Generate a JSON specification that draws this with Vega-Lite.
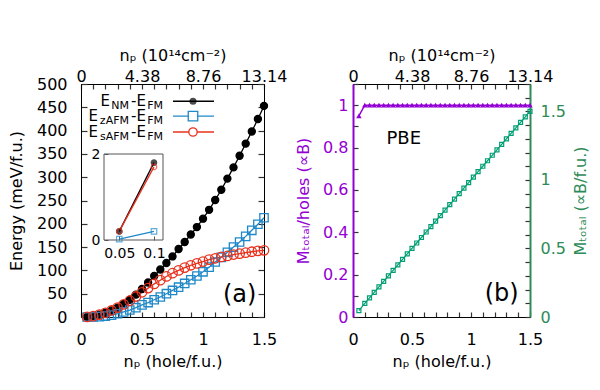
{
  "$schema": "https://vega.github.io/schema/vega-lite/v6.json",
  "padding": {"left": 7, "top": 46, "right": 0, "bottom": 0},
  "spacing": 7,
  "datasets": {
    "energy": [
      {"n":0.05,"s":"NM","E":0.2},{"n":0.1,"s":"NM","E":1.8},{"n":0.15,"s":"NM","E":5},{"n":0.2,"s":"NM","E":9},{"n":0.25,"s":"NM","E":14},{"n":0.3,"s":"NM","E":20},{"n":0.35,"s":"NM","E":28},{"n":0.4,"s":"NM","E":37},{"n":0.45,"s":"NM","E":48},{"n":0.5,"s":"NM","E":60},{"n":0.55,"s":"NM","E":74},{"n":0.6,"s":"NM","E":88},{"n":0.65,"s":"NM","E":102},{"n":0.7,"s":"NM","E":116},{"n":0.75,"s":"NM","E":130},{"n":0.8,"s":"NM","E":146},{"n":0.85,"s":"NM","E":161},{"n":0.9,"s":"NM","E":177},{"n":0.95,"s":"NM","E":193},{"n":1.0,"s":"NM","E":211},{"n":1.05,"s":"NM","E":230},{"n":1.1,"s":"NM","E":251},{"n":1.15,"s":"NM","E":273},{"n":1.2,"s":"NM","E":297},{"n":1.25,"s":"NM","E":321},{"n":1.3,"s":"NM","E":346},{"n":1.35,"s":"NM","E":372},{"n":1.4,"s":"NM","E":398},{"n":1.45,"s":"NM","E":425},{"n":1.5,"s":"NM","E":453},
      {"n":0.05,"s":"zAFM","E":0.02},{"n":0.1,"s":"zAFM","E":0.2},{"n":0.15,"s":"zAFM","E":0.8},{"n":0.2,"s":"zAFM","E":2},{"n":0.25,"s":"zAFM","E":4},{"n":0.3,"s":"zAFM","E":7},{"n":0.35,"s":"zAFM","E":11},{"n":0.4,"s":"zAFM","E":15},{"n":0.45,"s":"zAFM","E":20},{"n":0.5,"s":"zAFM","E":26},{"n":0.55,"s":"zAFM","E":31},{"n":0.6,"s":"zAFM","E":37},{"n":0.65,"s":"zAFM","E":43},{"n":0.7,"s":"zAFM","E":50},{"n":0.75,"s":"zAFM","E":57},{"n":0.8,"s":"zAFM","E":64},{"n":0.85,"s":"zAFM","E":72},{"n":0.9,"s":"zAFM","E":80},{"n":0.95,"s":"zAFM","E":88},{"n":1.0,"s":"zAFM","E":97},{"n":1.05,"s":"zAFM","E":107},{"n":1.1,"s":"zAFM","E":118},{"n":1.15,"s":"zAFM","E":128},{"n":1.2,"s":"zAFM","E":139},{"n":1.25,"s":"zAFM","E":150},{"n":1.3,"s":"zAFM","E":161},{"n":1.35,"s":"zAFM","E":173},{"n":1.4,"s":"zAFM","E":186},{"n":1.45,"s":"zAFM","E":199},{"n":1.5,"s":"zAFM","E":213},
      {"n":0.05,"s":"sAFM","E":0.2},{"n":0.1,"s":"sAFM","E":1.7},{"n":0.15,"s":"sAFM","E":5},{"n":0.2,"s":"sAFM","E":9},{"n":0.25,"s":"sAFM","E":14},{"n":0.3,"s":"sAFM","E":20},{"n":0.35,"s":"sAFM","E":27},{"n":0.4,"s":"sAFM","E":35},{"n":0.45,"s":"sAFM","E":44},{"n":0.5,"s":"sAFM","E":53},{"n":0.55,"s":"sAFM","E":62},{"n":0.6,"s":"sAFM","E":71},{"n":0.65,"s":"sAFM","E":79},{"n":0.7,"s":"sAFM","E":87},{"n":0.75,"s":"sAFM","E":94},{"n":0.8,"s":"sAFM","E":100},{"n":0.85,"s":"sAFM","E":106},{"n":0.9,"s":"sAFM","E":111},{"n":0.95,"s":"sAFM","E":115},{"n":1.0,"s":"sAFM","E":119},{"n":1.05,"s":"sAFM","E":123},{"n":1.1,"s":"sAFM","E":126},{"n":1.15,"s":"sAFM","E":129},{"n":1.2,"s":"sAFM","E":131},{"n":1.25,"s":"sAFM","E":134},{"n":1.3,"s":"sAFM","E":136},{"n":1.35,"s":"sAFM","E":138},{"n":1.4,"s":"sAFM","E":140},{"n":1.45,"s":"sAFM","E":142},{"n":1.5,"s":"sAFM","E":143}
    ],
    "mag": [
      {"n":0.05,"r":0.95,"m":0.047},{"n":0.1,"r":1,"m":0.1},{"n":0.14,"r":1,"m":0.14},{"n":0.18,"r":1,"m":0.18},{"n":0.22,"r":1,"m":0.22},{"n":0.26,"r":1,"m":0.26},{"n":0.3,"r":1,"m":0.3},{"n":0.34,"r":1,"m":0.34},{"n":0.38,"r":1,"m":0.38},{"n":0.42,"r":1,"m":0.42},{"n":0.46,"r":1,"m":0.46},{"n":0.5,"r":1,"m":0.5},{"n":0.54,"r":1,"m":0.54},{"n":0.58,"r":1,"m":0.58},{"n":0.62,"r":1,"m":0.62},{"n":0.66,"r":1,"m":0.66},{"n":0.7,"r":1,"m":0.7},{"n":0.74,"r":1,"m":0.74},{"n":0.78,"r":1,"m":0.78},{"n":0.82,"r":1,"m":0.82},{"n":0.86,"r":1,"m":0.86},{"n":0.9,"r":1,"m":0.9},{"n":0.94,"r":1,"m":0.94},{"n":0.98,"r":1,"m":0.98},{"n":1.02,"r":1,"m":1.02},{"n":1.06,"r":1,"m":1.06},{"n":1.1,"r":1,"m":1.1},{"n":1.14,"r":1,"m":1.14},{"n":1.18,"r":1,"m":1.18},{"n":1.22,"r":1,"m":1.22},{"n":1.26,"r":1,"m":1.26},{"n":1.3,"r":1,"m":1.3},{"n":1.34,"r":1,"m":1.34},{"n":1.38,"r":1,"m":1.38},{"n":1.42,"r":1,"m":1.42},{"n":1.46,"r":1,"m":1.46},{"n":1.5,"r":1,"m":1.5}
    ]
  },
  "hconcat": [
    {
      "width": 183,
      "height": 233,
      "layer": [
        {
          "layer": [
            {
              "data": {"name": "energy"},
              "mark": {"type": "line", "strokeWidth": 1.3},
              "encoding": {
                "x": {"field": "n", "type": "quantitative", "scale": {"domain": [0, 1.5], "nice": false, "zero": false},
                  "axis": {"orient": "bottom", "values": [0,0.1,0.2,0.3,0.4,0.5,0.6,0.7,0.8,0.9,1,1.1,1.2,1.3,1.4,1.5],
                    "labelExpr": "abs(datum.value*2-round(datum.value*2))<1e-6 ? format(datum.value,'~g') : ''",
                    "tickSize": -5, "tickColor": "#333333", "tickWidth": 1.2,
                    "labelPadding": 19, "title": "nₚ (hole/f.u.)", "titlePadding": 6}},
                "y": {"field": "E", "type": "quantitative", "scale": {"domain": [0, 500], "nice": false},
                  "axis": {"orient": "left", "values": [0,50,100,150,200,250,300,350,400,450,500], "tickSize": -6, "tickColor": "#333333", "tickWidth": 1.2, "labelPadding": 20, "title": "Energy (meV/f.u.)", "titlePadding": 12}},
                "color": {"field": "s", "type": "nominal", "scale": {"domain": ["NM","zAFM","sAFM"], "range": ["#000000","#1f88c8","#e8301c"]}, "legend": null}
              }
            },
            {
              "data": {"name": "energy"},
              "mark": {"type": "point", "filled": false, "strokeWidth": 1.3, "opacity": 1},
              "encoding": {
                "x": {"field": "n", "type": "quantitative",
                  "axis": {"orient": "top", "values": [0,0.1,0.2,0.3,0.4,0.5,0.6,0.7,0.8,0.9,1,1.1,1.2,1.3,1.4,1.5],
                    "labelExpr": "datum.value==0 ? '0' : (abs(datum.value*2-round(datum.value*2))<1e-6 ? format(datum.value*8.76,'.2f') : '')",
                    "tickSize": -5, "tickColor": "#333333", "tickWidth": 1.2,
                    "labelPadding": 5, "title": "nₚ (10¹⁴cm⁻²)", "titlePadding": 5}},
                "y": {"field": "E", "type": "quantitative",
                  "axis": {"orient": "right", "values": [0,50,100,150,200,250,300,350,400,450,500], "tickSize": -6, "tickColor": "#333333", "tickWidth": 1.2, "labels": false, "title": null}},
                "color": {"field": "s", "type": "nominal", "legend": null},
                "fill": {"field": "s", "type": "nominal", "scale": {"domain": ["NM","zAFM","sAFM"], "range": ["#000000","transparent","transparent"]}, "legend": null},
                "shape": {"field": "s", "type": "nominal", "scale": {"domain": ["NM","zAFM","sAFM"], "range": ["circle","square","circle"]}, "legend": null},
                "size": {"field": "s", "type": "nominal", "scale": {"domain": ["NM","zAFM","sAFM"], "range": [50,90,70]}, "legend": null}
              }
            },
            {"data": {"values": [{}]}, "mark": {"type": "rule", "color": "#000000", "strokeWidth": 1.3},
              "encoding": {"x": {"datum": 0.754, "axis": null}, "x2": {"datum": 1.09}, "y": {"datum": 463, "axis": null}}},
            {"data": {"values": [{}]}, "mark": {"type": "point", "filled": true, "color": "#000000", "size": 50},
              "encoding": {"x": {"datum": 0.918, "axis": null}, "y": {"datum": 463, "axis": null}}},
            {"data": {"values": [{}]}, "mark": {"type": "rule", "color": "#1f88c8", "strokeWidth": 1.3},
              "encoding": {"x": {"datum": 0.754, "axis": null}, "x2": {"datum": 1.09}, "y": {"datum": 431, "axis": null}}},
            {"data": {"values": [{}]}, "mark": {"type": "point", "shape": "square", "filled": false, "fill": "#ffffff", "fillOpacity": 1, "color": "#1f88c8", "strokeWidth": 1.3, "size": 90},
              "encoding": {"x": {"datum": 0.918, "axis": null}, "y": {"datum": 431, "axis": null}}},
            {"data": {"values": [{}]}, "mark": {"type": "rule", "color": "#e8301c", "strokeWidth": 1.3},
              "encoding": {"x": {"datum": 0.754, "axis": null}, "x2": {"datum": 1.09}, "y": {"datum": 397, "axis": null}}},
            {"data": {"values": [{}]}, "mark": {"type": "point", "shape": "circle", "filled": false, "fill": "#ffffff", "fillOpacity": 1, "color": "#e8301c", "strokeWidth": 1.3, "size": 70},
              "encoding": {"x": {"datum": 0.918, "axis": null}, "y": {"datum": 397, "axis": null}}},
            {"data": {"values": [{}]}, "mark": {"type": "text", "text": "FM", "fontSize": 11, "align": "right", "baseline": "middle", "dy": 5},
              "encoding": {"x": {"datum": 0.672, "axis": null}, "y": {"datum": 463, "axis": null}}},
            {"data": {"values": [{}]}, "mark": {"type": "text", "text": "-E", "fontSize": 15, "align": "right", "baseline": "middle", "dx": -17},
              "encoding": {"x": {"datum": 0.672, "axis": null}, "y": {"datum": 463, "axis": null}}},
            {"data": {"values": [{}]}, "mark": {"type": "text", "text": "NM", "fontSize": 11, "align": "right", "baseline": "middle", "dx": -34, "dy": 5},
              "encoding": {"x": {"datum": 0.672, "axis": null}, "y": {"datum": 463, "axis": null}}},
            {"data": {"values": [{}]}, "mark": {"type": "text", "text": "E", "fontSize": 15, "align": "right", "baseline": "middle", "dx": -53},
              "encoding": {"x": {"datum": 0.672, "axis": null}, "y": {"datum": 463, "axis": null}}},
            {"data": {"values": [{}]}, "mark": {"type": "text", "text": "FM", "fontSize": 11, "align": "right", "baseline": "middle", "dy": 5},
              "encoding": {"x": {"datum": 0.672, "axis": null}, "y": {"datum": 431, "axis": null}}},
            {"data": {"values": [{}]}, "mark": {"type": "text", "text": "-E", "fontSize": 15, "align": "right", "baseline": "middle", "dx": -17},
              "encoding": {"x": {"datum": 0.672, "axis": null}, "y": {"datum": 431, "axis": null}}},
            {"data": {"values": [{}]}, "mark": {"type": "text", "text": "zAFM", "fontSize": 11, "align": "right", "baseline": "middle", "dx": -34, "dy": 5},
              "encoding": {"x": {"datum": 0.672, "axis": null}, "y": {"datum": 431, "axis": null}}},
            {"data": {"values": [{}]}, "mark": {"type": "text", "text": "E", "fontSize": 15, "align": "right", "baseline": "middle", "dx": -65},
              "encoding": {"x": {"datum": 0.672, "axis": null}, "y": {"datum": 431, "axis": null}}},
            {"data": {"values": [{}]}, "mark": {"type": "text", "text": "FM", "fontSize": 11, "align": "right", "baseline": "middle", "dy": 5},
              "encoding": {"x": {"datum": 0.672, "axis": null}, "y": {"datum": 397, "axis": null}}},
            {"data": {"values": [{}]}, "mark": {"type": "text", "text": "-E", "fontSize": 15, "align": "right", "baseline": "middle", "dx": -17},
              "encoding": {"x": {"datum": 0.672, "axis": null}, "y": {"datum": 397, "axis": null}}},
            {"data": {"values": [{}]}, "mark": {"type": "text", "text": "sAFM", "fontSize": 11, "align": "right", "baseline": "middle", "dx": -34, "dy": 5},
              "encoding": {"x": {"datum": 0.672, "axis": null}, "y": {"datum": 397, "axis": null}}},
            {"data": {"values": [{}]}, "mark": {"type": "text", "text": "E", "fontSize": 15, "align": "right", "baseline": "middle", "dx": -65},
              "encoding": {"x": {"datum": 0.672, "axis": null}, "y": {"datum": 397, "axis": null}}},
            {"data": {"values": [{}]}, "mark": {"type": "text", "text": "(a)", "fontSize": 24, "align": "center", "baseline": "middle"},
              "encoding": {"x": {"datum": 1.3, "axis": null}, "y": {"datum": 47, "axis": null}}}
          ],
          "resolve": {"axis": {"x": "independent", "y": "independent"}}
        },
        {
          "layer": [
            {"data": {"values": [{}]}, "mark": {"type": "rect", "fill": "#ffffff", "fillOpacity": 0, "stroke": "#555555", "strokeWidth": 1},
              "encoding": {
                "x": {"datum": 0.028, "scale": {"domain": [0.028, 0.113], "range": [23, 82], "nice": false, "zero": false}, "axis": null},
                "x2": {"datum": 0.113},
                "y": {"datum": 0, "scale": {"domain": [0, 2], "range": [156, 70], "nice": false}, "axis": null},
                "y2": {"datum": 2}}},
            {"data": {"name": "energy"}, "transform": [{"filter": "datum.n <= 0.1"}],
              "mark": {"type": "line", "strokeWidth": 1.3},
              "encoding": {
                "x": {"field": "n", "type": "quantitative", "axis": {"orient": "bottom", "offset": -77, "values": [0.05, 0.1], "format": "~g", "tickSize": -4, "tickColor": "#555555", "labelPadding": 10, "labelFontSize": 14, "domain": false, "title": null}},
                "y": {"field": "E", "type": "quantitative", "axis": {"orient": "left", "offset": -23, "values": [0, 1, 2], "format": "d", "tickSize": -4, "tickColor": "#555555", "labelPadding": 8, "labelFontSize": 14, "domain": false, "title": null}},
                "color": {"field": "s", "type": "nominal", "legend": null}}},
            {"data": {"name": "energy"}, "transform": [{"filter": "datum.n <= 0.1"}],
              "mark": {"type": "point", "filled": false, "strokeWidth": 1.2, "size": 30},
              "encoding": {
                "x": {"field": "n", "type": "quantitative", "axis": null},
                "y": {"field": "E", "type": "quantitative", "axis": null},
                "color": {"field": "s", "type": "nominal", "legend": null},
                "fill": {"field": "s", "type": "nominal", "legend": null},
                "shape": {"field": "s", "type": "nominal", "legend": null}}}
          ],
          "resolve": {"axis": {"x": "independent", "y": "independent"}}
        }
      ],
      "resolve": {"scale": {"x": "independent", "y": "independent"}, "axis": {"x": "independent", "y": "independent"}}
    },
    {
      "width": 177,
      "height": 233,
      "layer": [
        {
          "data": {"name": "mag"},
          "layer": [
            {"mark": {"type": "line", "color": "#9400d3", "strokeWidth": 1.5},
              "encoding": {
                "x": {"field": "n", "type": "quantitative", "scale": {"domain": [0, 1.5], "nice": false, "zero": false},
                  "axis": {"orient": "bottom", "values": [0,0.1,0.2,0.3,0.4,0.5,0.6,0.7,0.8,0.9,1,1.1,1.2,1.3,1.4,1.5],
                    "labelExpr": "abs(datum.value*2-round(datum.value*2))<1e-6 ? format(datum.value,'~g') : ''",
                    "tickSize": -5, "tickColor": "#333333", "tickWidth": 1.2,
                    "labelPadding": 19, "title": "nₚ (hole/f.u.)", "titlePadding": 6}},
                "y": {"field": "r", "type": "quantitative", "scale": {"domain": [0, 1.1], "nice": false},
                  "axis": {"orient": "left", "values": [0,0.1,0.2,0.3,0.4,0.5,0.6,0.7,0.8,0.9,1,1.1],
                    "labelExpr": "abs(datum.value*5-round(datum.value*5))<1e-6 ? format(datum.value,'~g') : ''",
                    "tickSize": -5, "tickColor": "#333333", "tickWidth": 1.2,
                    "labelPadding": 10, "domainColor": "#9400d3", "domainWidth": 2, "labelColor": "#9400d3", "titleColor": "#9400d3",
                    "title": "Mₜₒₜₐₗ/holes (∝B)", "titlePadding": 11}}}},
            {"mark": {"type": "point", "shape": "triangle-up", "filled": true, "color": "#9400d3", "size": 30, "opacity": 1},
              "encoding": {"x": {"field": "n", "type": "quantitative", "axis": null}, "y": {"field": "r", "type": "quantitative", "axis": null}}},
            {"data": {"values": [{}]}, "mark": {"type": "text", "text": "PBE", "fontSize": 18, "align": "center", "baseline": "middle"},
              "encoding": {"x": {"datum": 0.43, "axis": null}, "y": {"datum": 0.84, "axis": null}}},
            {"data": {"values": [{}]}, "mark": {"type": "text", "text": "(b)", "fontSize": 24, "align": "center", "baseline": "middle"},
              "encoding": {"x": {"datum": 1.26, "axis": null}, "y": {"datum": 0.11, "axis": null}}}
          ],
          "resolve": {"axis": {"x": "independent", "y": "independent"}}
        },
        {
          "data": {"name": "mag"},
          "layer": [
            {"mark": {"type": "line", "color": "#009e73", "strokeWidth": 1.2},
              "encoding": {
                "x": {"field": "n", "type": "quantitative",
                  "axis": {"orient": "top", "values": [0,0.1,0.2,0.3,0.4,0.5,0.6,0.7,0.8,0.9,1,1.1,1.2,1.3,1.4,1.5],
                    "labelExpr": "datum.value==0 ? '0' : (abs(datum.value*2-round(datum.value*2))<1e-6 ? format(datum.value*8.76,'.2f') : '')",
                    "tickSize": -5, "tickColor": "#333333", "tickWidth": 1.2,
                    "labelPadding": 5, "title": "nₚ (10¹⁴cm⁻²)", "titlePadding": 5}},
                "y": {"field": "m", "type": "quantitative", "scale": {"domain": [0, 1.7], "nice": false},
                  "axis": {"orient": "right", "values": [0,0.1,0.2,0.3,0.4,0.5,0.6,0.7,0.8,0.9,1,1.1,1.2,1.3,1.4,1.5,1.6,1.7],
                    "labelExpr": "abs(datum.value*2-round(datum.value*2))<1e-6 ? format(datum.value,'~g') : ''",
                    "tickSize": -5, "tickColor": "#333333", "tickWidth": 1.2,
                    "labelPadding": 15, "domainColor": "#2e8b57", "domainWidth": 2, "labelColor": "#2e8b57", "titleColor": "#2e8b57",
                    "title": "Mₜₒₜₐₗ (∝B/f.u.)", "titleAngle": 270, "titlePadding": 23}}}},
            {"mark": {"type": "point", "shape": "square", "filled": false, "color": "#009e73", "size": 16, "strokeWidth": 1.2, "opacity": 1},
              "encoding": {"x": {"field": "n", "type": "quantitative", "axis": null}, "y": {"field": "m", "type": "quantitative", "axis": null}}}
          ],
          "resolve": {"axis": {"x": "independent", "y": "independent"}}
        }
      ],
      "resolve": {"scale": {"y": "independent"}, "axis": {"x": "independent", "y": "independent"}}
    }
  ],
  "config": {
    "font": "DejaVu Sans",
    "view": {"stroke": "#000000", "strokeWidth": 1},
    "axis": {"grid": false, "domainColor": "#000000", "labelColor": "#000000", "titleColor": "#000000",
      "titleFontWeight": "normal", "labelFontSize": 16, "titleFontSize": 16, "labelFont": "DejaVu Sans", "titleFont": "DejaVu Sans",
      "labelFlush": false, "labelOverlap": false},
    "text": {"font": "DejaVu Sans"}
  }
}
